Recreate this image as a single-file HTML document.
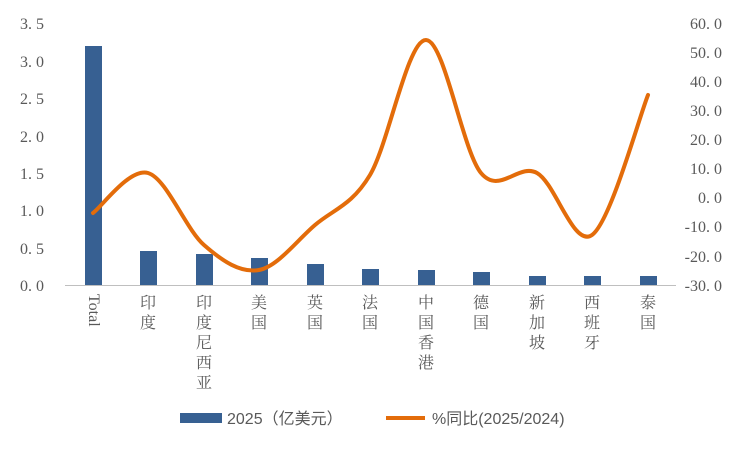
<!DOCTYPE html>
<html><head><meta charset="utf-8"><style>
html,body{margin:0;padding:0;background:#fff;}
svg{display:block;}
text{font-family:"Liberation Serif","Noto Serif CJK SC",serif;fill:#595959;}
.cj{font-family:"Liberation Sans","Noto Sans CJK SC",sans-serif;}
.cs{font-family:"Liberation Serif","Noto Serif CJK SC",serif;}
</style></head><body>
<svg width="750" height="450" viewBox="0 0 750 450" xmlns="http://www.w3.org/2000/svg">
<g font-size="16" text-anchor="end">
<text x="44" y="29">3. 5</text>
<text x="44" y="67">3. 0</text>
<text x="44" y="104">2. 5</text>
<text x="44" y="142">2. 0</text>
<text x="44" y="179">1. 5</text>
<text x="44" y="216">1. 0</text>
<text x="44" y="254">0. 5</text>
<text x="44" y="291">0. 0</text>
</g>
<g font-size="16" text-anchor="end">
<text x="722" y="29">60. 0</text>
<text x="722" y="58">50. 0</text>
<text x="722" y="87">40. 0</text>
<text x="722" y="116">30. 0</text>
<text x="722" y="145">20. 0</text>
<text x="722" y="174">10. 0</text>
<text x="722" y="203">0. 0</text>
<text x="722" y="232">-10. 0</text>
<text x="722" y="262">-20. 0</text>
<text x="722" y="291">-30. 0</text>
</g>
<g fill="#376092">
<rect x="85" y="46" width="17" height="239"/>
<rect x="140" y="251" width="17" height="34"/>
<rect x="196" y="254" width="17" height="31"/>
<rect x="251" y="258" width="17" height="27"/>
<rect x="307" y="264" width="17" height="21"/>
<rect x="362" y="269" width="17" height="16"/>
<rect x="418" y="270" width="17" height="15"/>
<rect x="473" y="272" width="17" height="13"/>
<rect x="529" y="276" width="17" height="9"/>
<rect x="584" y="276" width="17" height="9"/>
<rect x="640" y="276" width="17" height="9"/>
</g>
<line x1="65" y1="285.5" x2="676" y2="285.5" stroke="#bfbfbf" stroke-width="1"/>
<path d="M93,213 C102.2,206.3 129.5,167.7 148,173 C166.5,178.3 185.5,228.8 204,245 C222.5,261.2 240.5,273.3 259,270 C277.5,266.7 296.5,240.8 315,225 C333.5,209.2 351.5,205.8 370,175 C388.5,144.2 407.5,39.7 426,40 C444.5,40.3 462.5,150.8 481,173 C499.5,195.2 518.5,162.7 537,173 C555.5,183.3 573.5,248 592,235 C610.5,222 638.7,118.3 648,95" fill="none" stroke="#e36c0a" stroke-width="4" stroke-linecap="round"/>
<g font-size="16" class="cs" text-anchor="middle">
<text transform="translate(89,294) rotate(90)" text-anchor="start">Total</text>
<text x="148" y="308">印</text><text x="148" y="328">度</text>
<text x="204" y="308">印</text><text x="204" y="328">度</text><text x="204" y="348">尼</text><text x="204" y="368">西</text><text x="204" y="388">亚</text>
<text x="259" y="308">美</text><text x="259" y="328">国</text>
<text x="315" y="308">英</text><text x="315" y="328">国</text>
<text x="370" y="308">法</text><text x="370" y="328">国</text>
<text x="426" y="308">中</text><text x="426" y="328">国</text><text x="426" y="348">香</text><text x="426" y="368">港</text>
<text x="481" y="308">德</text><text x="481" y="328">国</text>
<text x="537" y="308">新</text><text x="537" y="328">加</text><text x="537" y="348">坡</text>
<text x="592" y="308">西</text><text x="592" y="328">班</text><text x="592" y="348">牙</text>
<text x="648" y="308">泰</text><text x="648" y="328">国</text>
</g>
<rect x="180" y="413" width="42" height="10" fill="#376092"/>
<text x="227" y="424" font-size="16" class="cj">2025（亿美元）</text>
<line x1="386" y1="418" x2="425" y2="418" stroke="#e36c0a" stroke-width="4"/>
<text x="432" y="424" font-size="16" class="cj">%同比(2025/2024)</text>
</svg>
</body></html>
